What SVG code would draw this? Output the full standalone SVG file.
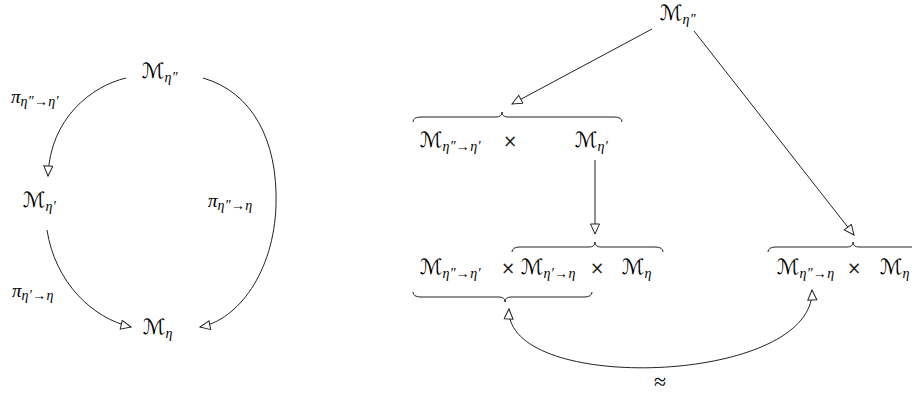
<svg xmlns="http://www.w3.org/2000/svg" width="912" height="394" viewBox="0 0 912 394">
<style>
text{font-family:"Liberation Serif","DejaVu Serif",serif;fill:#000;}
.m{font-size:18px;}
.cal{font-family:"DejaVu Sans",sans-serif;font-size:21px;}
.sub{font-size:14px;font-style:italic;letter-spacing:0.3px;}
.it{font-style:italic;}
.x{font-size:19px;}
.ap{font-size:22px;}
.times{font-family:"DejaVu Sans",sans-serif;font-size:17px;fill:#222;}
.ln{fill:none;stroke:#222;stroke-width:1;}
.arr{marker-end:url(#tri);}
.br{fill:none;stroke:#222;stroke-width:1;}
</style>
<defs>
<marker id="tri" markerUnits="userSpaceOnUse" markerWidth="14" markerHeight="12" refX="11" refY="5" orient="auto" viewBox="0 0 14 12">
<path d="M1,0.5 L11,5 L1,9.5 Z" fill="#fff" stroke="#222" stroke-width="1"/>
</marker>
<marker id="tris" markerUnits="userSpaceOnUse" markerWidth="14" markerHeight="12" refX="11" refY="5" orient="auto-start-reverse" viewBox="0 0 14 12">
<path d="M1,0.5 L11,5 L1,9.5 Z" fill="#fff" stroke="#222" stroke-width="1"/>
</marker>
</defs>

<g id="connectors">
<path class="ln arr" d="M126,78 C92,86 50,118 48,176"/>
<path class="ln arr" d="M203,78 C252,92 278,140 276,205 C274,272 238,320 200,327"/>
<path class="ln arr" d="M47,230 C55,282 92,318 131,327"/>
<path class="ln arr" d="M652,29 L512,104"/>
<path class="ln arr" d="M694,31 L854,235"/>
<path class="ln arr" d="M595,160 L595,234"/>
<path class="ln" style="marker-start:url(#tris);marker-end:url(#tri)" d="M509,309 C505,395 815,385 812,290"/>
</g>

<g id="braces">
<path class="br" d="M413,122 Q413,117 421,117 L496,117 Q502,117 502,112 Q502,117 508,117 L614,117 Q622,117 622,122"/>
<path class="br" d="M512,252 Q512,247 520,247 L589,247 Q595,247 595,242 Q595,247 601,247 L655,247 Q663,247 663,252"/>
<path class="br" d="M413,292 Q413,297 421,297 L499,297 Q505,297 505,302 Q505,297 511,297 L584,297 Q592,297 592,292"/>
<path class="br" d="M768,252 Q768,247 776,247 L847,247 Q853,247 853,242 Q853,247 859,247 L930,247"/>
</g>

<g id="left-M-eta2">
<text class="m" x="142" y="78"><tspan class="cal">ℳ</tspan><tspan class="sub" dy="4">η″</tspan></text>
</g>
<g id="left-M-eta1">
<text class="m" x="23" y="207"><tspan class="cal">ℳ</tspan><tspan class="sub" dy="4">η′</tspan></text>
</g>
<g id="left-M-eta">
<text class="m" x="143" y="334"><tspan class="cal">ℳ</tspan><tspan class="sub" dy="4">η</tspan></text>
</g>
<g id="label-pi21">
<text class="x it" x="11" y="103">π<tspan class="sub" dy="3">η″→η′</tspan></text>
</g>
<g id="label-pi20">
<text class="x it" x="208" y="207">π<tspan class="sub" dy="3">η″→η</tspan></text>
</g>
<g id="label-pi10">
<text class="x it" x="12" y="297">π<tspan class="sub" dy="3">η′→η</tspan></text>
</g>

<g id="top-M-eta2">
<text class="m" x="660" y="20"><tspan class="cal">ℳ</tspan><tspan class="sub" dy="4">η″</tspan></text>
</g>
<g id="row1">
<text class="m" x="420" y="147"><tspan class="cal">ℳ</tspan><tspan class="sub" dy="4">η″→η′</tspan></text>
<text class="times" x="503" y="147">×</text>
<text class="m" x="575" y="147"><tspan class="cal">ℳ</tspan><tspan class="sub" dy="4">η′</tspan></text>
</g>
<g id="row2">
<text class="m" x="420" y="274"><tspan class="cal">ℳ</tspan><tspan class="sub" dy="4">η″→η′</tspan></text>
<text class="times" x="501" y="274">×</text>
<text class="m" x="521" y="274"><tspan class="cal">ℳ</tspan><tspan class="sub" dy="4">η′→η</tspan></text>
<text class="times" x="590" y="274">×</text>
<text class="m" x="622" y="274"><tspan class="cal">ℳ</tspan><tspan class="sub" dy="4">η</tspan></text>
</g>
<g id="row2-right">
<text class="m" x="777" y="274"><tspan class="cal">ℳ</tspan><tspan class="sub" dy="4">η″→η</tspan></text>
<text class="times" x="847" y="274">×</text>
<text class="m" x="880" y="274"><tspan class="cal">ℳ</tspan><tspan class="sub" dy="4">η</tspan></text>
</g>
<g id="approx">
<text class="ap" x="660" y="389" text-anchor="middle">≈</text>
</g>
</svg>
